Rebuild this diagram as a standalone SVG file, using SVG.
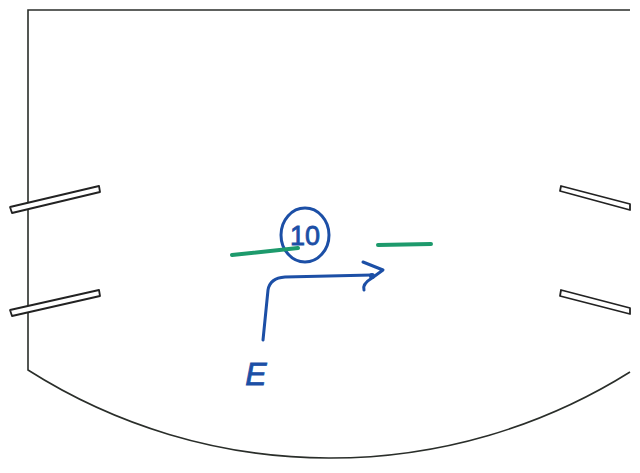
<svg xmlns="http://www.w3.org/2000/svg" width="640" height="473" viewBox="0 0 640 473">
<style>
.outline{fill:none;stroke:#2a2e2a;stroke-width:1.6}
.slot{fill:#fff;stroke:#222;stroke-width:1.8;stroke-linejoin:round}
.blue{fill:none;stroke:#1c4fa6;stroke-width:3;stroke-linecap:round;stroke-linejoin:round}
.green{fill:none;stroke:#1d9a6c;stroke-width:4;stroke-linecap:round}
.hand{font-family:"Liberation Sans",sans-serif;fill:#1c4fa6}
</style>
<rect width="640" height="473" fill="#fff"/>
<g id="outline">
<path class="outline" d="M630,10 L28,10 L28,370 A564,564 0 0 0 630,372"/>
</g>
<g id="slots">
<polygon class="slot" points="10,207 99,186 100,192 12,213"/>
<polygon class="slot" points="10,310 99,290 100,296 12,316"/>
<polygon class="slot" points="561,186 630,204 630,210 560,191"/>
<polygon class="slot" points="561,290 630,308 630,314 560,296"/>
</g>
<g id="node-10">
<ellipse cx="305" cy="235" rx="24" ry="27" class="blue"/>
<text x="305" y="245" text-anchor="middle" font-size="27" class="hand" stroke="#1c4fa6" stroke-width="0.8">10</text>
</g>
<g id="label-E">
<text x="256" y="385" text-anchor="middle" font-size="32" font-style="italic" class="hand" stroke="#1c4fa6" stroke-width="0.8">E</text>
</g>
<g id="connectors">
<path class="green" d="M232,255 L298,248"/>
<path class="green" d="M378,245 L431,244"/>
<path class="blue" d="M263,340 L268,290 Q270,278 285,277 L372,275"/>
<path class="blue" d="M363,262 L383,270 L372,278 Q362,284 364,290"/>
<circle cx="372" cy="276" r="3" fill="#1c4fa6"/>
</g>
</svg>
